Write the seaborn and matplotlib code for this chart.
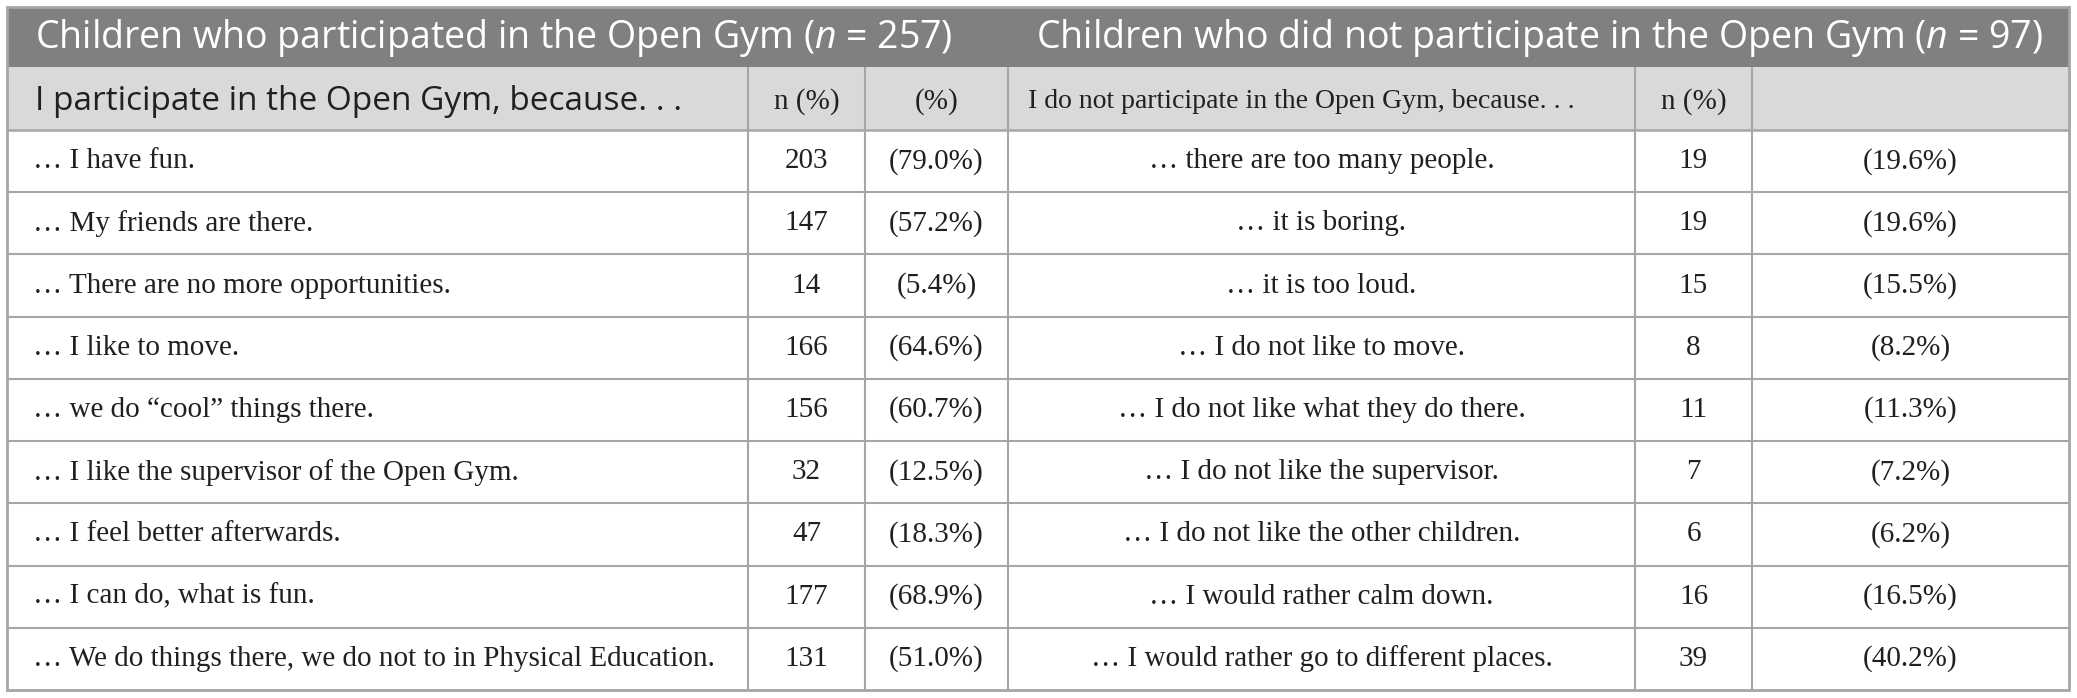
import pandas as pd
import seaborn as sns
import matplotlib.pyplot as plt
from matplotlib.patches import Rectangle

# table content
title_yes = "Children who participated in the Open Gym ($\\mathit{n}$ = 257)"
title_no = "Children who did not participate in the Open Gym ($\\mathit{n}$ = 97)"
head_yes = "I participate in the Open Gym, because. . ."
head_no = "I do not participate in the Open Gym, because. . ."
reasons_yes = [
    "\u2026 I have fun.",
    "\u2026 My friends are there.",
    "\u2026 There are no more opportunities.",
    "\u2026 I like to move.",
    "\u2026 we do \u201ccool\u201d things there.",
    "\u2026 I like the supervisor of the Open Gym.",
    "\u2026 I feel better afterwards.",
    "\u2026 I can do, what is fun.",
    "\u2026 We do things there, we do not to in Physical Education.",
]
n_yes = [203, 147, 14, 166, 156, 32, 47, 177, 131]
pct_yes = [79.0, 57.2, 5.4, 64.6, 60.7, 12.5, 18.3, 68.9, 51.0]
reasons_no = [
    "\u2026 there are too many people.",
    "\u2026 it is boring.",
    "\u2026 it is too loud.",
    "\u2026 I do not like to move.",
    "\u2026 I do not like what they do there.",
    "\u2026 I do not like the supervisor.",
    "\u2026 I do not like the other children.",
    "\u2026 I would rather calm down.",
    "\u2026 I would rather go to different places.",
]
n_no = [19, 19, 15, 8, 11, 7, 6, 16, 39]
pct_no = [19.6, 19.6, 15.5, 8.2, 11.3, 7.2, 6.2, 16.5, 40.2]

df = pd.DataFrame({"reason_yes": reasons_yes, "n_yes": n_yes, "pct_yes": pct_yes,
                   "reason_no": reasons_no, "n_no": n_no, "pct_no": pct_no})

sns.set_theme(style="white")
plt.rcParams["mathtext.fontset"] = "custom"
plt.rcParams["mathtext.rm"] = "Open Sans"
plt.rcParams["mathtext.it"] = "Open Sans:italic"

W, H = 2077, 698
fig = plt.figure(figsize=(W / 100, H / 100), dpi=100)
ax = fig.add_axes([0, 0, 1, 1])
ax.set_xlim(0, W)
ax.set_ylim(H, 0)
ax.axis("off")

# layout (pixels)
left, right = 7, 2069
top, y_title, y_head, bottom = 7, 67, 130, 690
cols = [left, 748, 865, 1008, 1635, 1752, right]
row_h = (bottom - y_head) / len(df)
grid = "#a6a6a6"
serif = "Liberation Serif"
sans = "Open Sans"
ink = "#231f20"
fs_body = 21

ax.add_patch(Rectangle((left, top), right - left, y_title - top, color="#808080", lw=0))
ax.add_patch(Rectangle((left, y_title), right - left, y_head - y_title, color="#d9d9d9", lw=0))

row_edges = [y_head + row_h * k for k in range(1, len(df))]
ax.hlines(row_edges, left, right, color=grid, lw=1.5)
ax.hlines([y_head], left, right, color=grid, lw=1.8)
ax.vlines(cols[1:-1], y_title, bottom, color=grid, lw=1.5)
ax.add_patch(Rectangle((left, top), right - left, bottom - top, fill=False, ec=grid, lw=2))

# titles
ymid = (top + y_title) / 2
ax.text(35, ymid + 1, title_yes, color="white", fontsize=27, family=sans, va="center", ha="left")
ax.text(1036, ymid + 1, title_no, color="white", fontsize=27, family=sans, va="center", ha="left")

# sub header
hmid = (y_title + y_head) / 2 + 3
ax.text(35, hmid, head_yes, color=ink, fontsize=24, family=sans, va="center", ha="left")
ax.text(cols[1] / 2 + cols[2] / 2, hmid, "n (%)", color=ink, fontsize=fs_body, family=serif, va="center", ha="center")
ax.text(cols[2] / 2 + cols[3] / 2, hmid, "(%)", color=ink, fontsize=fs_body, family=serif, va="center", ha="center")
ax.text(cols[3] / 2 + cols[4] / 2 - 20, hmid, head_no, color=ink, fontsize=20, family=serif, va="center", ha="center")
ax.text(cols[4] / 2 + cols[5] / 2, hmid, "n (%)", color=ink, fontsize=fs_body, family=serif, va="center", ha="center")

# body
for i, r in df.iterrows():
    y = y_head + row_h * (i + 0.5)
    kw = dict(color=ink, fontsize=fs_body, family=serif, va="center")
    ax.text(33, y, r["reason_yes"], ha="left", **kw)
    ax.text((cols[1] + cols[2]) / 2, y, f"{r['n_yes']}", ha="center", **kw)
    ax.text((cols[2] + cols[3]) / 2, y, f"({r['pct_yes']:.1f}%)", ha="center", **kw)
    ax.text((cols[3] + cols[4]) / 2, y, r["reason_no"], ha="center", **kw)
    ax.text((cols[4] + cols[5]) / 2, y, f"{r['n_no']}", ha="center", **kw)
    ax.text((cols[5] + cols[6]) / 2, y, f"({r['pct_no']:.1f}%)", ha="center", **kw)

fig.savefig("out.png", dpi=100)
